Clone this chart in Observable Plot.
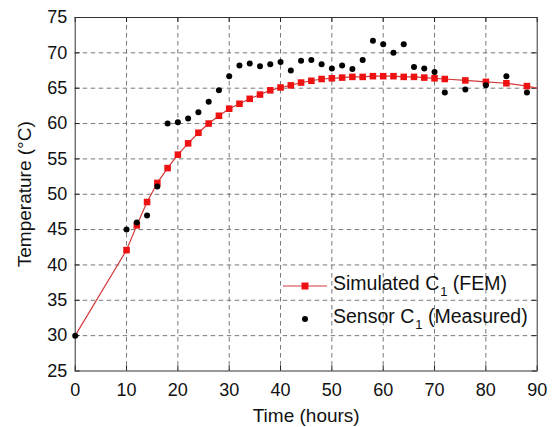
<!DOCTYPE html>
<html>
<head>
<meta charset="utf-8">
<script src="https://cdn.jsdelivr.net/npm/d3@7"></script>
<script src="https://cdn.jsdelivr.net/npm/@observablehq/plot@0.6"></script>
<style>
  html, body { margin: 0; padding: 0; background: #fff; }
  #wrap { position: relative; width: 552px; height: 427px; font-family: "Liberation Sans", Arial, sans-serif; }
  .legend { position: absolute; left: 280px; top: 0; font-size: 19.5px; color: #111; line-height: 1; }
  .legend .row { position: absolute; left: 0; white-space: nowrap; display: flex; align-items: center; }
  .legend sub { font-size: 13px; vertical-align: -6px; margin-left: 1px; color: #111; }
</style>
</head>
<body>
<div id="wrap"></div>
<script>
// Simulated C1 (FEM)
const simTime = [0,10,12,14,16,18,20,22,24,26,28,30,32,34,36,38,40,42,44,46,48,50,52,54,56,58,60,62,64,66,68,70,72,76,80,84,88,90];
const simTemp = [30,42.1,45.6,48.9,51.6,53.7,55.6,57.2,58.7,60.0,61.1,62.1,62.8,63.5,64.1,64.7,65.1,65.4,65.8,66.05,66.3,66.4,66.5,66.6,66.6,66.7,66.7,66.7,66.6,66.6,66.5,66.4,66.3,66.1,65.9,65.7,65.3,65.0];
// Sensor C1 (Measured)
const measTime = [0,10,12,14,16,18,20,22,24,26,28,30,32,34,36,38,40,42,44,46,48,50,52,54,56,58,60,62,64,66,68,70,72,76,80,84,88];
const measTemp = [30,45.0,46.0,47.0,51.1,60.0,60.2,60.7,61.6,63.1,64.7,66.7,68.2,68.5,68.1,68.4,68.7,67.5,68.9,69.0,68.4,67.8,68.2,67.7,69.0,71.7,71.2,70.0,71.2,68.0,67.8,67.3,64.4,64.8,65.4,66.7,64.4];
const xTicks = [0,10,20,30,40,50,60,70,80,90];
const yTicks = [25,30,35,40,45,50,55,60,65,70,75];
const xGrid = [10,20,30,40,50,60,70,80];
const yGrid = [30,35,40,45,50,55,60,65,70];

const sim = simTime.map((t, i) => ({t, v: simTemp[i]}));
const simMarkers = sim.filter((d, i) => i > 0 && i < sim.length - 1);
const meas = measTime.map((t, i) => ({t, v: measTemp[i]}));

const W = 552, H = 427;
const mt = 17, mb = 56.5, ml = 74.7, mr = 15.3;
const innerH = H - mt - mb, innerW = W - ml - mr;

const chart = Plot.plot({
  width: W, height: H,
  marginTop: mt, marginBottom: mb, marginLeft: ml, marginRight: mr,
  style: {fontFamily: "'Liberation Sans', Arial, sans-serif", fontSize: "18px", color: "#111", background: "#fff"},
  x: {domain: [0, 90]},
  y: {domain: [25, 75]},
  marks: [
    Plot.gridX(xGrid, {stroke: "#777", strokeOpacity: 1, strokeDasharray: "4.5,3.5", strokeWidth: 1}),
    Plot.gridY(yGrid, {stroke: "#777", strokeOpacity: 1, strokeDasharray: "4.5,3.5", strokeWidth: 1}),
    // inward ticks
    Plot.ruleX(xTicks, {x: d => d, insetTop: innerH - 5, stroke: "#222"}),
    Plot.ruleX(xTicks, {x: d => d, insetBottom: innerH - 5, stroke: "#222"}),
    Plot.ruleY(yTicks, {y: d => d, insetRight: innerW - 5, stroke: "#222"}),
    Plot.ruleY(yTicks, {y: d => d, insetLeft: innerW - 5, stroke: "#222"}),
    Plot.axisX(xTicks, {tickSize: 0, tickPadding: 12, fontSize: 18, label: null}),
    Plot.axisX({tickSize: 0, ticks: [], label: "Time (hours)", labelAnchor: "center", labelArrow: "none", labelOffset: 51, fontSize: 19}),
    Plot.axisY(yTicks, {tickSize: 0, tickPadding: 8, fontSize: 18, label: null}),
    Plot.axisY({tickSize: 0, ticks: [], label: "Temperature (°C)", labelAnchor: "center", labelArrow: "none", labelOffset: 58, fontSize: 19}),
    Plot.frame({stroke: "#333"}),
    Plot.line(sim, {x: "t", y: "v", stroke: "#d43a3a", strokeWidth: 1.2}),
    Plot.dot(simMarkers, {x: "t", y: "v", symbol: "square", r: 3.7, fill: "#ee1111", stroke: "none"}),
    Plot.dot(meas, {x: "t", y: "v", r: 3, fill: "#000", stroke: "none"})
  ]
});

const wrap = document.getElementById("wrap");
wrap.appendChild(chart);

// Legend
const legend = document.createElement("div");
legend.className = "legend";
legend.innerHTML = `
  <div class="row" style="top:274px;">
    <svg width="48" height="20" style="margin-right:5px"><line x1="3" y1="10" x2="47" y2="10" stroke="#d43a3a" stroke-width="1.2"/><rect x="21.5" y="6.5" width="7" height="7" fill="#ee1111"/></svg>
    <span>Simulated C<sub>1</sub> (FEM)</span>
  </div>
  <div class="row" style="top:307px;">
    <svg width="48" height="20" style="margin-right:5px"><circle cx="25" cy="10" r="3" fill="#000"/></svg>
    <span>Sensor C<sub>1</sub> (Measured)</span>
  </div>`;
wrap.appendChild(legend);
</script>
</body>
</html>
